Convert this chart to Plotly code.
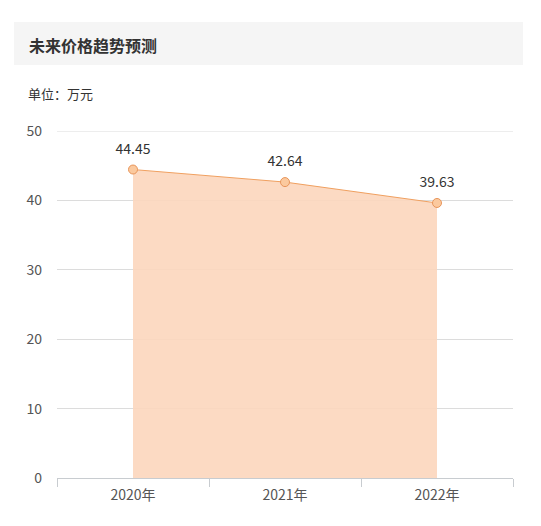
import plotly.graph_objects as go

# 未来价格趋势预测 data (万元)
years = ['2020年', '2021年', '2022年']
prices = [44.45, 42.64, 39.63]
y_ticks = [0, 10, 20, 30, 40, 50]

font_family = 'Noto Sans CJK SC, Microsoft YaHei, sans-serif'

fig = go.Figure()
fig.add_trace(go.Scatter(
    x=years, y=prices,
    mode='lines+markers',
    line=dict(color='#f0a060', width=1),
    marker=dict(size=9, color='#fbc99e', line=dict(color='#e8955a', width=1)),
    fill='tozeroy',
    fillcolor='rgba(252, 214, 188, 0.9)',
    cliponaxis=False,
    showlegend=False,
))
# value labels, a bit above the points
fig.add_trace(go.Scatter(
    x=years, y=prices,
    mode='markers+text',
    text=[f'{v:.2f}' for v in prices],
    textposition='top center',
    textfont=dict(size=14, color='#333333'),
    marker=dict(size=18, opacity=0),
    cliponaxis=False,
    showlegend=False,
    hoverinfo='skip',
))

# top gridline at 50 (plotly drops the one on the edge)
fig.add_shape(type='line', xref='paper', yref='y', x0=0, x1=1, y0=50, y1=50,
              line=dict(color='#dcdcdc', width=1), layer='below')

# grey title bar (page px converted to paper coords, plot area 57..513 x 131..478)
fig.add_shape(type='rect', xref='paper', yref='paper',
              x0=-43 / 456, x1=466 / 456, y0=(478 - 65) / 347, y1=(478 - 22) / 347,
              fillcolor='#f5f5f5', line=dict(width=0), layer='below')
fig.add_annotation(text='<b>未来价格趋势预测</b>', xref='paper', yref='paper',
                   x=-30 / 456, y=(478 - 45) / 347, xanchor='left', yanchor='middle',
                   showarrow=False, font=dict(size=16, color='#333333'))
fig.add_annotation(text='单位：万元', xref='paper', yref='paper',
                   x=-31 / 456, y=(478 - 93) / 347, xanchor='left', yanchor='middle',
                   showarrow=False, font=dict(size=13, color='#333333'))

fig.update_layout(
    width=533, height=518,
    margin=dict(l=49, r=28, t=123, b=48),
    paper_bgcolor='white', plot_bgcolor='white',
    font=dict(family=font_family, color='#555555'),
    xaxis=dict(
        type='category', range=[-0.5, 2.5],
        showline=True, linecolor='#c8ccd0', linewidth=1,
        ticks='outside', tickson='boundaries', ticklen=8, tickcolor='#c8ccd0',
        showgrid=False, ticklabelstandoff=4, tickfont=dict(size=14, color='#555555'),
    ),
    yaxis=dict(
        range=[0, 50], tickvals=y_ticks,
        showgrid=True, gridcolor='#dcdcdc', gridwidth=1,
        zeroline=False, showline=False, ticks='', ticklabelstandoff=14,
        tickfont=dict(size=14, color='#555555'),
    ),
)

fig.write_html('out.html')
